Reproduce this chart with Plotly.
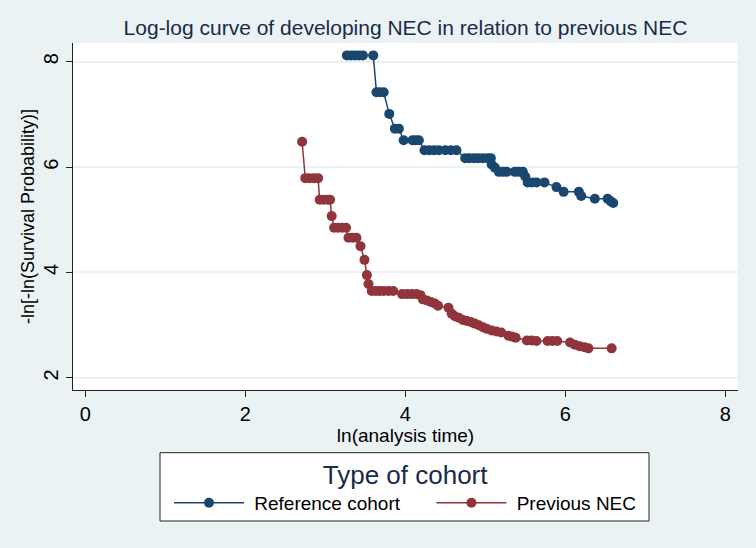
import plotly.graph_objects as go

# Reference cohort: ln(analysis time) and -ln[-ln(S)]
ref_x = [3.27, 3.32, 3.37, 3.42, 3.47, 3.60,
         3.64, 3.68, 3.73,
         3.80,
         3.87, 3.92,
         3.98, 4.09, 4.13, 4.17,
         4.24, 4.30, 4.36, 4.42, 4.50, 4.57, 4.64,
         4.75, 4.80, 4.86, 4.91, 4.97, 5.03, 5.07,
         5.08, 5.12,
         5.17, 5.22, 5.27,
         5.37, 5.42, 5.47,
         5.50,
         5.53, 5.58, 5.64, 5.74,
         5.89,
         5.98,
         6.17, 6.20,
         6.37,
         6.53, 6.57, 6.60]
ref_y = [8.12, 8.12, 8.12, 8.12, 8.12, 8.12,
         7.42, 7.42, 7.42,
         7.01,
         6.73, 6.73,
         6.51, 6.51, 6.51, 6.51,
         6.32, 6.32, 6.32, 6.32, 6.32, 6.32, 6.32,
         6.17, 6.17, 6.17, 6.17, 6.17, 6.17, 6.17,
         6.05, 5.99,
         5.91, 5.91, 5.91,
         5.91, 5.91, 5.91,
         5.82,
         5.71, 5.71, 5.71, 5.71,
         5.62,
         5.53,
         5.53, 5.45,
         5.40,
         5.40, 5.35, 5.32]

# Previous NEC
prev_x = [2.71,
          2.75, 2.80, 2.86, 2.91,
          2.93, 2.98, 3.03, 3.06,
          3.08,
          3.11, 3.16, 3.21, 3.26,
          3.29, 3.34, 3.39,
          3.44, 3.49, 3.52, 3.54,
          3.58, 3.63, 3.68, 3.73, 3.79, 3.85,
          3.96, 4.02, 4.08, 4.14, 4.19,
          4.22, 4.27, 4.32, 4.37, 4.41,
          4.54,
          4.58, 4.62, 4.67,
          4.72, 4.77, 4.82, 4.87, 4.92,
          4.97, 5.02, 5.08, 5.14, 5.20,
          5.29, 5.34, 5.38,
          5.52, 5.58, 5.64,
          5.78, 5.84, 5.90,
          6.06, 6.12, 6.18, 6.24, 6.29,
          6.58]
prev_y = [6.48,
          5.79, 5.79, 5.79, 5.79,
          5.38, 5.38, 5.38, 5.38,
          5.07,
          4.85, 4.85, 4.85, 4.85,
          4.66, 4.66, 4.66,
          4.50, 4.24, 3.95, 3.78,
          3.65, 3.65, 3.65, 3.65, 3.65, 3.65,
          3.59, 3.59, 3.59, 3.59, 3.57,
          3.49, 3.47, 3.44, 3.41, 3.37,
          3.33,
          3.22, 3.17, 3.14,
          3.10, 3.08, 3.06, 3.03, 3.00,
          2.96, 2.93, 2.90, 2.88, 2.86,
          2.80, 2.78, 2.76,
          2.71, 2.71, 2.70,
          2.70, 2.70, 2.70,
          2.67, 2.63, 2.60, 2.58, 2.56,
          2.56]

x_ticks = [0, 2, 4, 6, 8]
y_ticks = [2, 4, 6, 8]

NAVY = "#1a476f"
MAROON = "#90353b"
BG = "#eaf2f3"
SANS = "Liberation Sans, Arial, sans-serif"
NB = "\u00a0"

fig = go.Figure()
fig.add_trace(go.Scatter(x=ref_x, y=ref_y, mode="lines+markers",
                         name=NB + "Reference cohort" + NB * 5,
                         line=dict(color=NAVY, width=1.5),
                         marker=dict(color=NAVY, size=10, symbol="circle")))
fig.add_trace(go.Scatter(x=prev_x, y=prev_y, mode="lines+markers",
                         name=NB + "Previous NEC",
                         line=dict(color=MAROON, width=1.5),
                         marker=dict(color=MAROON, size=10, symbol="circle")))

fig.update_layout(
    width=756, height=548,
    margin=dict(l=73, r=18, t=43, b=158),
    paper_bgcolor=BG, plot_bgcolor="white",
    title=dict(text="Log-log curve of developing NEC in relation to previous NEC",
               x=(73 + 738) / 2 / 756, xanchor="center", y=1 - 28 / 548, yanchor="middle",
               font=dict(family=SANS, size=21, color="#1b2a4a")),
    xaxis=dict(range=[-0.154, 8.16], tickvals=x_ticks, ticks="outside", ticklen=6,
               tickcolor="#222", showline=True, linecolor="#222", linewidth=1,
               showgrid=False, zeroline=False,
               tickfont=dict(family=SANS, size=20, color="black"),
               title=dict(text="ln(analysis time)", standoff=2,
                          font=dict(family=SANS, size=19, color="black"))),
    yaxis=dict(range=[1.77, 8.355], tickvals=y_ticks, ticks="outside", ticklen=6,
               tickcolor="#222", showline=True, linecolor="#222", linewidth=1,
               showgrid=True, gridcolor=BG, gridwidth=1.5, zeroline=False,
               tickangle=-90,
               tickfont=dict(family=SANS, size=20, color="black"),
               title=dict(text="-ln[-ln(Survival Probability)]", standoff=0,
                          font=dict(family=SANS, size=18, color="black"))),
    showlegend=True,
    legend=dict(orientation="h", x=0.5, xanchor="center", y=-0.173, yanchor="top",
                bgcolor="rgba(0,0,0,0)", itemwidth=70,
                font=dict(family=SANS, size=19, color="black"),
                title=dict(text="Type of cohort", side="top center",
                           font=dict(family=SANS, size=26, color="#1b2a4a"))),
    shapes=[dict(type="rect", xref="paper", yref="paper",
                 x0=(160 - 73) / 665, x1=(649 - 73) / 665,
                 y0=(390 - 521) / 347, y1=(390 - 452.7) / 347,
                 line=dict(color="#222", width=1), fillcolor="white", layer="below")],
)

fig.write_html("out.html", config={"displayModeBar": False},
               post_script="document.body.style.margin='0';")
